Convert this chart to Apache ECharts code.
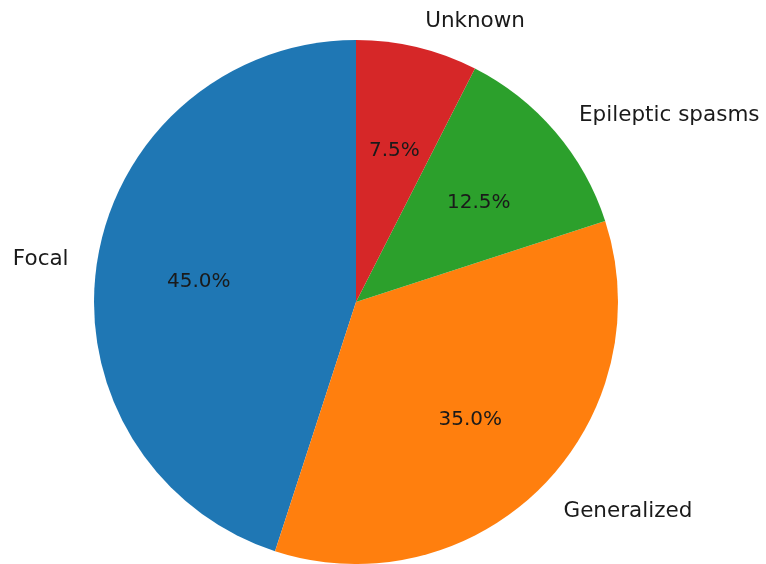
<!DOCTYPE html>
<html>
<head>
<meta charset="utf-8">
<script src="https://cdn.jsdelivr.net/npm/echarts@6/dist/echarts.min.js"></script>
<style>
  html, body { margin: 0; padding: 0; background: #ffffff; }
  #chart { width: 766px; height: 564px; }
</style>
</head>
<body>
<div id="chart"></div>
<script>
// Seizure type shares (percent of cases)
const categories = ['Focal', 'Generalized', 'Epileptic spasms', 'Unknown'];
const shares = [45.0, 35.0, 12.5, 7.5];
const colors = ['#1f77b4', '#ff7f0e', '#2ca02c', '#d62728'];

const R = 262;
const CENTER = [356, 302];
const FONT = 'DejaVu Sans';

const pieData = categories.map((name, i) => ({
  name: name,
  value: shares[i],
  itemStyle: { color: colors[i] }
}));

const chart = echarts.init(document.getElementById('chart'), null, { renderer: 'canvas' });

chart.setOption({
  backgroundColor: '#ffffff',
  animation: false,
  series: [
    {
      // visible wedges with category names outside
      type: 'pie',
      center: CENTER,
      radius: [0, R],
      startAngle: 90,
      clockwise: false,
      avoidLabelOverlap: false,
      silent: true,
      data: pieData,
      itemStyle: { borderWidth: 0 },
      label: {
        show: true,
        position: 'outside',
        formatter: '{b}',
        fontFamily: FONT,
        fontSize: 21.5,
        color: '#1a1a1a',
        distanceToLabelLine: 0,
        offset: [1, 3]
      },
      labelLine: { show: false, length: 30, length2: 0 }
    },
    {
      // transparent ring sized so the inside labels sit at 0.6 of the wedge radius
      type: 'pie',
      center: CENTER,
      radius: [0, R * 1.2],
      startAngle: 90,
      clockwise: false,
      avoidLabelOverlap: false,
      silent: true,
      z: 3,
      data: categories.map((name, i) => ({ name: name, value: shares[i] })),
      itemStyle: { color: 'rgba(0,0,0,0)', borderWidth: 0 },
      label: {
        show: true,
        position: 'inside',
        formatter: p => p.value.toFixed(1) + '%',
        fontFamily: FONT,
        fontSize: 20,
        color: '#1a1a1a',
        offset: [1, 5]
      },
      labelLine: { show: false }
    }
  ]
});
</script>
</body>
</html>
